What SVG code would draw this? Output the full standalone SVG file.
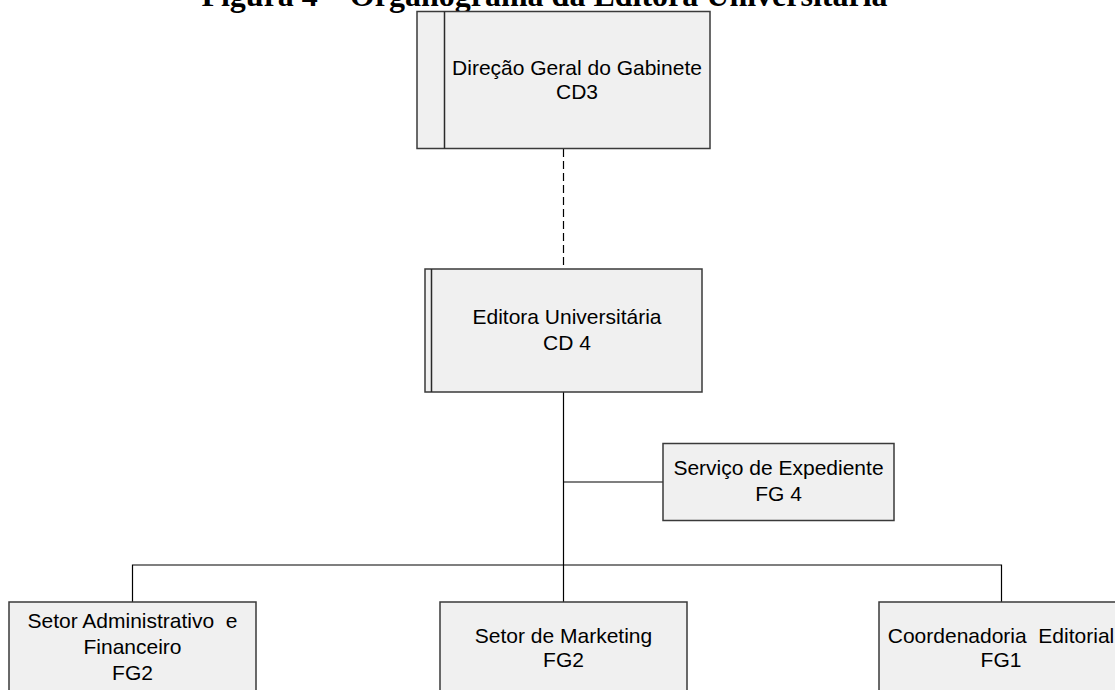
<svg xmlns="http://www.w3.org/2000/svg" width="1115" height="690" viewBox="0 0 1115 690">
  <style>
    .box { fill: #f0f0f0; stroke: #3a3a3a; stroke-width: 1.5; }
    .bar { stroke: #2a2a2a; stroke-width: 1.5; fill: none; }
    .lbl { font-family: "Liberation Sans", Arial, sans-serif; font-size: 21px; fill: #000; text-anchor: middle; }
    .title { font-family: "Liberation Serif", "Times New Roman", serif; font-size: 32px; font-weight: bold; fill: #000; text-anchor: middle; }
    .link { stroke: #000; stroke-width: 1.2; fill: none; }
    .dash { stroke-dasharray: 8 4; }
  </style>
  <rect width="1115" height="690" fill="#fff"/>

  <text class="title" x="544.5" y="6">Figura 4 – Organograma da Editora Universitária</text>

  <!-- connectors -->
  <g id="connectors">
    <line class="link dash" x1="563.5" y1="149" x2="563.5" y2="269"/>
    <line class="link" x1="563.5" y1="392" x2="563.5" y2="602"/>
    <line class="link" x1="563.5" y1="482" x2="663" y2="482"/>
    <polyline class="link" points="132.5,602 132.5,565 1001.5,565 1001.5,602"/>
  </g>

  <g id="node-direcao">
    <rect class="box" x="417" y="11.5" width="293" height="137"/>
    <line class="bar" x1="444.5" y1="11.5" x2="444.5" y2="148.5"/>
    <text class="lbl" x="577" y="75">Direção Geral do Gabinete</text>
    <text class="lbl" x="577" y="99">CD3</text>
  </g>

  <g id="node-editora">
    <rect class="box" x="425" y="269" width="277" height="123"/>
    <line class="bar" x1="431.5" y1="269" x2="431.5" y2="392"/>
    <text class="lbl" x="567" y="324">Editora Universitária</text>
    <text class="lbl" x="567" y="350">CD 4</text>
  </g>

  <g id="node-expediente">
    <rect class="box" x="663" y="443.5" width="231" height="77"/>
    <text class="lbl" x="778.5" y="475">Serviço de Expediente</text>
    <text class="lbl" x="778.5" y="501">FG 4</text>
  </g>

  <g id="node-administrativo">
    <rect class="box" x="9" y="602" width="247" height="100"/>
    <text class="lbl" x="132.5" y="628" xml:space="preserve">Setor Administrativo  e</text>
    <text class="lbl" x="132.5" y="654">Financeiro</text>
    <text class="lbl" x="132.5" y="680">FG2</text>
  </g>

  <g id="node-marketing">
    <rect class="box" x="440" y="602" width="247" height="100"/>
    <text class="lbl" x="563.5" y="643">Setor de Marketing</text>
    <text class="lbl" x="563.5" y="667">FG2</text>
  </g>

  <g id="node-editorial">
    <rect class="box" x="879" y="602" width="247" height="100"/>
    <text class="lbl" x="1001" y="643" xml:space="preserve">Coordenadoria  Editorial</text>
    <text class="lbl" x="1001" y="667">FG1</text>
  </g>
</svg>
